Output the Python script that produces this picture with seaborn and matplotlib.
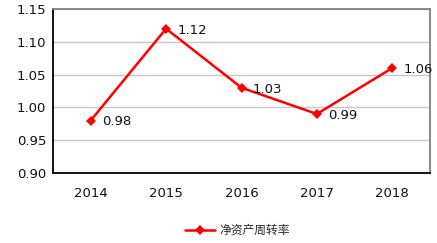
import matplotlib
matplotlib.use("Agg")
import matplotlib.pyplot as plt
import seaborn as sns
import pandas as pd
from matplotlib.ticker import FixedLocator, MultipleLocator

years = ["2014", "2015", "2016", "2017", "2018"]
values = [0.98, 1.12, 1.03, 0.99, 1.06]
series_name = "净资产周转率"

sns.set_theme(style="white")
plt.rcParams['font.family'] = ['Noto Sans CJK SC', 'DejaVu Sans']

df = pd.DataFrame({"year": years, "value": values})

fig = plt.figure(figsize=(4.37, 2.43), dpi=100)
ax = fig.add_axes([53/437, 1-173/243, 377/437, 164/243])

sns.lineplot(data=df, x="year", y="value", ax=ax, color="#FF0000", lw=1.8,
             marker="D", markersize=5, markeredgewidth=0, label=series_name, sort=False)

ax.set_ylim(0.90, 1.15)
ax.set_xlim(-0.5, 4.5)
ax.yaxis.set_major_locator(MultipleLocator(0.05))
ax.set_yticklabels([f"{v:.2f}" for v in ax.get_yticks()], fontsize=9.5, family=['DejaVu Sans'], color='#111111')
ax.set_xticks(range(len(years)))
ax.set_xticklabels(years, fontsize=9.5, family=['DejaVu Sans'], color='#111111')
ax.tick_params(axis='x', length=0, pad=10)
ax.tick_params(axis='y', length=0, pad=5)
ax.xaxis.set_minor_locator(FixedLocator([0.5, 1.5, 2.5, 3.5]))
ax.tick_params(axis='x', which='minor', length=4, width=1, color='black', direction='out')
ax.grid(axis='y', color='#C8C8C8', lw=1)
ax.set_axisbelow(True)
ax.set_xlabel("")
ax.set_ylabel("")

for s in ['left', 'bottom']:
    ax.spines[s].set_color('black')
    ax.spines[s].set_linewidth(1.3)
for s in ['top', 'right']:
    ax.spines[s].set_color('#7F7F7F')
    ax.spines[s].set_linewidth(1.3)

for i, v in enumerate(values):
    ax.annotate(f"{v:.2f}", (i, v), xytext=(8, -1), textcoords='offset points',
                fontsize=9.5, va='center', ha='left', family=['DejaVu Sans'], color='#111111')

leg = ax.legend(loc='center', bbox_to_anchor=(0.5 - 4/377, -0.35), frameon=False,
                fontsize=8.5, handlelength=2.5, handletextpad=0.4)

fig.savefig("out.png", dpi=100)
